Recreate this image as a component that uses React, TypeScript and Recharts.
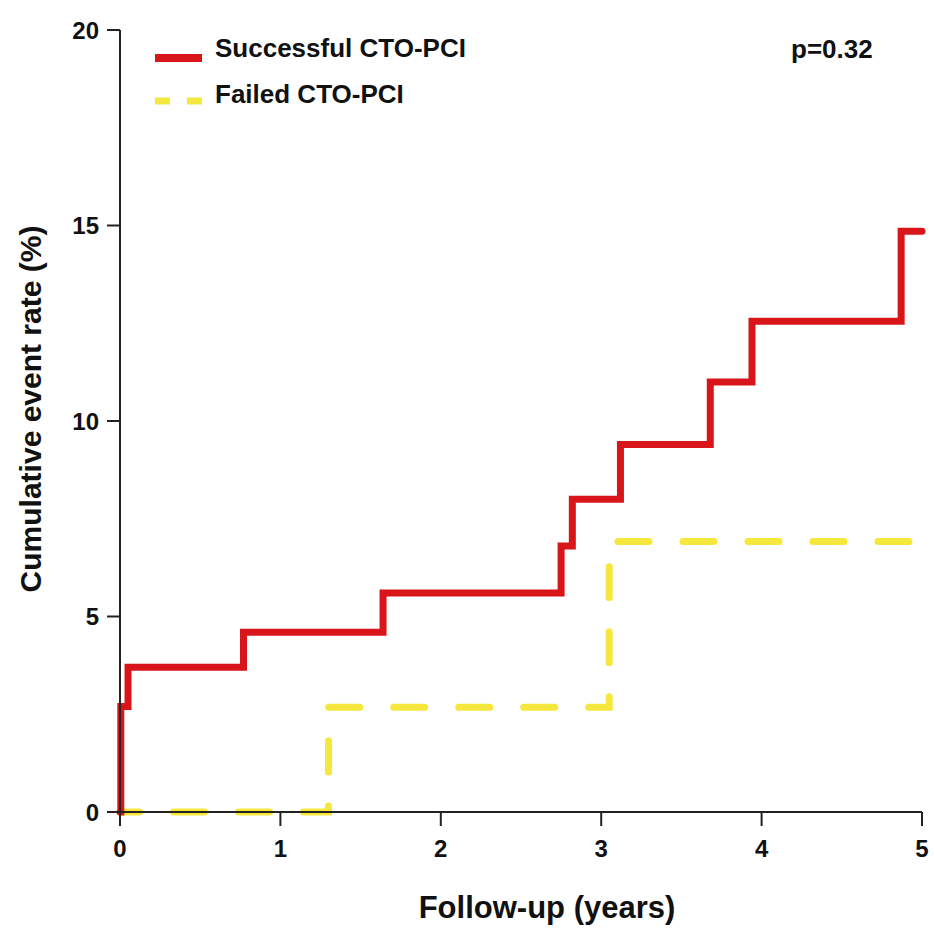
import { LineChart, Line, XAxis, YAxis, Label, Legend } from "recharts";

// Kaplan-Meier style cumulative event curves (x in years, y in %)
const successYears = [0, 0.005, 0.05, 0.77, 1.64, 2.75, 2.82, 3.12, 3.68, 3.94, 4.87, 5.0];
const successRate = [0, 2.7, 3.7, 4.6, 5.6, 6.8, 8.0, 9.4, 11.0, 12.55, 14.85, 14.85];
const failedYears = [0, 1.3, 3.05, 5.0];
const failedRate = [0, 2.68, 6.92, 6.92];

const xTicks = [0, 1, 2, 3, 4, 5];
const yTicks = [0, 5, 10, 15, 20];
const seriesNames = ["Successful CTO-PCI", "Failed CTO-PCI"];
const pValue = "p=0.32";

const RED = "#d81619";
const YELLOW = "#f6e73c";
const AXIS = "#222";
const FONT = "'Liberation Sans', Arial, Helvetica, sans-serif";

const successData = successYears.map((t, i) => ({ t, rate: successRate[i] }));
const failedData = failedYears.map((t, i) => ({ t, rate: failedRate[i] }));

function renderLegend() {
  return (
    <svg width={934} height={120} style={{ display: "block" }}>
      <line x1={155} x2={202} y1={58} y2={58} stroke={RED} strokeWidth={8} />
      <text x={215} y={57} fontFamily={FONT} fontWeight="bold" fontSize={26} fill="#111">
        {seriesNames[0]}
      </text>
      <line
        x1={155}
        x2={202}
        y1={101}
        y2={101}
        stroke={YELLOW}
        strokeWidth={7}
        strokeDasharray="15 17"
      />
      <text x={215} y={103} fontFamily={FONT} fontWeight="bold" fontSize={26} fill="#111">
        {seriesNames[1]}
      </text>
      <text x={791} y={58} fontFamily={FONT} fontWeight="bold" fontSize={26} fill="#111">
        {pValue}
      </text>
    </svg>
  );
}

export default function App() {
  const tickStyle = { fontSize: 24, fontWeight: "bold", fill: "#111", fontFamily: FONT };

  return (
    <div style={{ position: "absolute", left: 0, top: 0, width: 934, height: 929, background: "#fff" }}>
      <LineChart width={934} height={929} margin={{ top: 30, right: 12, left: 0, bottom: 0 }}>
        <XAxis
          type="number"
          dataKey="t"
          domain={[0, 5]}
          ticks={xTicks}
          height={117}
          tickSize={14}
          tickMargin={14}
          tick={tickStyle}
          stroke={AXIS}
          strokeWidth={2}
          tickLine={{ stroke: AXIS, strokeWidth: 2 }}
        >
          <Label
            content={({ viewBox }: any) => (
              <text
                x={viewBox.x + viewBox.width / 2 + 26}
                y={viewBox.y + 106}
                textAnchor="middle"
                fontFamily={FONT}
                fontWeight="bold"
                fontSize={31}
                fill="#111"
              >
                Follow-up (years)
              </text>
            )}
          />
        </XAxis>
        <YAxis
          type="number"
          domain={[0, 20]}
          ticks={yTicks}
          width={120}
          tickSize={13}
          tickMargin={8}
          tick={tickStyle}
          stroke={AXIS}
          strokeWidth={2}
          tickLine={{ stroke: AXIS, strokeWidth: 2 }}
        >
          <Label
            content={({ viewBox }: any) => {
              const cx = 30;
              const cy = viewBox.y + viewBox.height / 2 - 12;
              return (
                <text
                  x={cx}
                  y={cy}
                  transform={`rotate(-90, ${cx}, ${cy})`}
                  textAnchor="middle"
                  dominantBaseline="central"
                  fontFamily={FONT}
                  fontWeight="bold"
                  fontSize={30}
                  fill="#111"
                >
                  Cumulative event rate (%)
                </text>
              );
            }}
          />
        </YAxis>
        <Legend
          verticalAlign="middle"
          layout="horizontal"
          content={renderLegend}
          wrapperStyle={{ top: 0, left: 0, width: 934, height: 120, pointerEvents: "none" }}
        />
        <Line
          data={failedData}
          dataKey="rate"
          name={seriesNames[1]}
          type="stepAfter"
          stroke={YELLOW}
          strokeWidth={7}
          strokeDasharray="31 34"
          strokeDashoffset={11.5}
          strokeLinecap="round"
          dot={false}
          activeDot={false}
          isAnimationActive={false}
        />
        <Line
          data={successData}
          dataKey="rate"
          name={seriesNames[0]}
          type="stepAfter"
          stroke={RED}
          strokeWidth={7}
          strokeLinecap="round"
          dot={false}
          activeDot={false}
          isAnimationActive={false}
        />
      </LineChart>
    </div>
  );
}
